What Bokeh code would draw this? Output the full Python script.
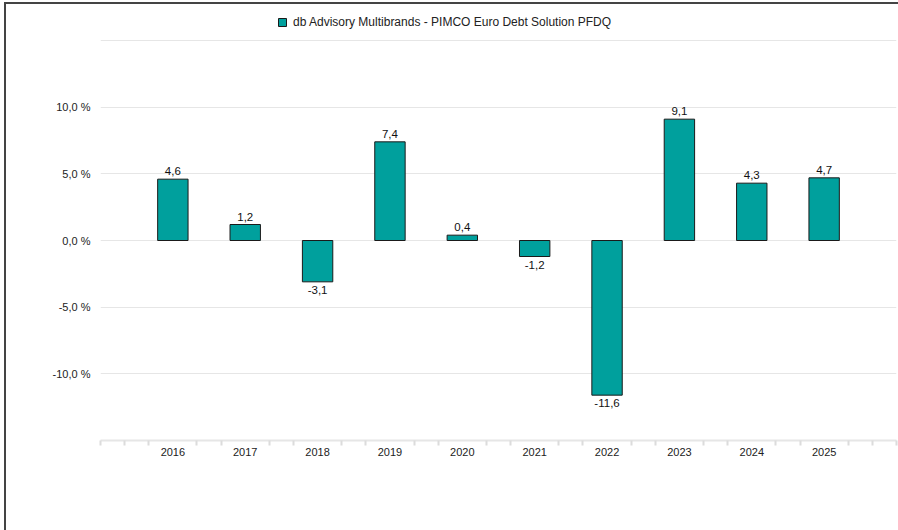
from bokeh.plotting import figure
from bokeh.models import (ColumnDataSource, FixedTicker, CustomJSTickFormatter,
                          Range1d, Legend, LegendItem, InlineStyleSheet)
from bokeh.core.properties import value
from bokeh.embed import file_html
from bokeh.resources import INLINE

# ---- data ----
years = [2016, 2017, 2018, 2019, 2020, 2021, 2022, 2023, 2024, 2025]
returns = [4.6, 1.2, -3.1, 7.4, 0.4, -1.2, -11.6, 9.1, 4.3, 4.7]
series_name = "db Advisory Multibrands - PIMCO Euro Debt Solution PFDQ"
y_ticks = [-10, -5, 0, 5, 10]
grid_ticks = [-15, -10, -5, 0, 5, 10, 15]

FONT = "Liberation Sans"
BAR = "#00a09d"

labels = [f"{v:.1f}".replace(".", ",") for v in returns]
pos = [v >= 0 for v in returns]

src_all = ColumnDataSource(dict(x=years, top=returns, lab=labels))
src_pos = ColumnDataSource(dict(x=[x for x, p in zip(years, pos) if p],
                                y=[v for v, p in zip(returns, pos) if p],
                                lab=[l for l, p in zip(labels, pos) if p]))
src_neg = ColumnDataSource(dict(x=[x for x, p in zip(years, pos) if not p],
                                y=[v for v, p in zip(returns, pos) if not p],
                                lab=[l for l, p in zip(labels, pos) if not p]))

x_start, x_end = years[0] - 1, years[-1] + 1

box_css = InlineStyleSheet(css="""
:host::after {
  content: "";
  position: absolute;
  left: 4px; top: 2px; right: 0; bottom: 0;
  border-top: 2px solid #444444;
  border-left: 2px solid #444444;
  pointer-events: none;
  z-index: 10;
}
""")

p = figure(width=898, height=530, output_backend="svg", toolbar_location=None,
           x_range=Range1d(x_start, x_end), y_range=Range1d(-15, 18.0),
           min_border_left=100, min_border_right=2, min_border_top=0,
           min_border_bottom=90, stylesheets=[box_css])
p.outline_line_color = None
p.background_fill_color = "white"
p.border_fill_color = "white"

bars = p.vbar(x="x", top="top", bottom=0, width=0.42, source=src_all,
              fill_color=BAR, line_color="#1a1a1a", line_width=1)

p.text(x="x", y="y", text="lab", source=src_pos, text_align="center",
       text_baseline="bottom", y_offset=-4, text_font=value(FONT),
       text_font_size="11.5px", text_color="#111111")
p.text(x="x", y="y", text="lab", source=src_neg, text_align="center",
       text_baseline="top", y_offset=4, text_font=value(FONT),
       text_font_size="11.5px", text_color="#111111")

# x axis
minor = []
for k in range(3 * (x_end - x_start) + 1):
    t = x_start + k / 3
    if abs(t - round(t)) < 1e-9 and x_start < round(t) < x_end:
        continue
    minor.append(t)
p.xaxis.ticker = FixedTicker(ticks=years, minor_ticks=minor)
p.xaxis.major_tick_line_color = None
p.xaxis.minor_tick_line_color = "#dcdcdc"
p.xaxis.minor_tick_line_width = 2
p.xaxis.minor_tick_in = 0
p.xaxis.minor_tick_out = 5
p.xaxis.axis_line_color = "#e6e6e6"
p.xaxis.axis_line_width = 2
p.xaxis.major_label_standoff = 1
p.xaxis.major_label_text_font = FONT
p.xaxis.major_label_text_font_size = "11px"
p.xaxis.major_label_text_color = "#222222"
p.xgrid.grid_line_color = None

# y axis
p.yaxis.ticker = FixedTicker(ticks=y_ticks)
p.yaxis.formatter = CustomJSTickFormatter(
    code="return tick.toFixed(1).replace('.', ',') + ' %';")
p.yaxis.axis_line_color = None
p.yaxis.major_tick_line_color = None
p.yaxis.minor_tick_line_color = None
p.yaxis.major_label_standoff = 4
p.yaxis.major_label_text_font = FONT
p.yaxis.major_label_text_font_size = "11px"
p.yaxis.major_label_text_color = "#222222"
p.ygrid.ticker = FixedTicker(ticks=grid_ticks)
p.ygrid.grid_line_color = "#e6e6e6"
p.ygrid.grid_line_width = 1

legend = Legend(items=[LegendItem(label=series_name, renderers=[bars])],
                location=(177, 411), orientation="horizontal",
                glyph_width=10, glyph_height=10, label_standoff=6,
                padding=0, margin=0, spacing=0,
                background_fill_alpha=0, border_line_color=None,
                label_text_font=FONT, label_text_font_size="12px",
                label_text_color="#222222", label_height=12)
p.add_layout(legend)

open("out.html", "w").write(file_html(p, INLINE))
